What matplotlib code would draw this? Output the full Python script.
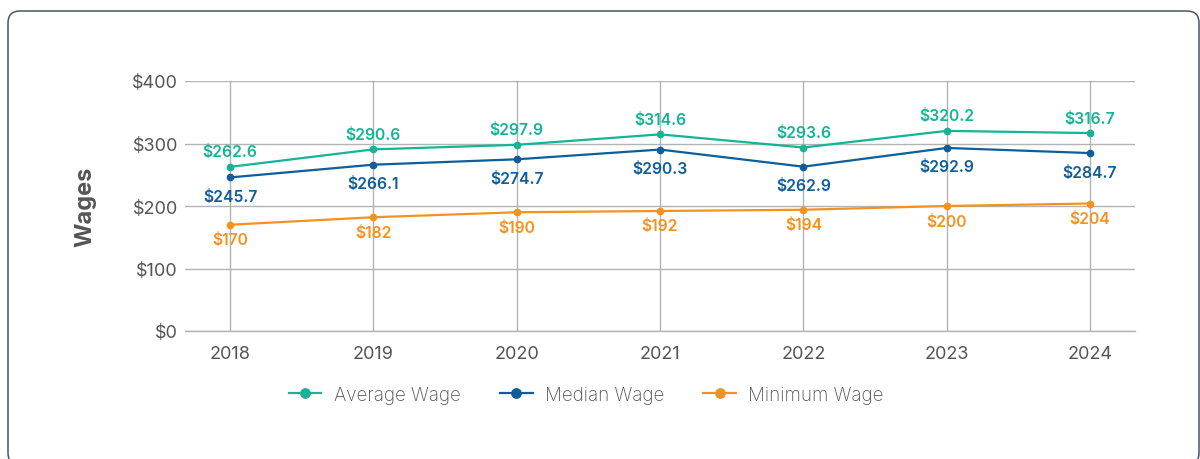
import numpy as np
import matplotlib
matplotlib.use("Agg")
import matplotlib.pyplot as plt
from matplotlib.patches import FancyBboxPatch
from matplotlib.transforms import IdentityTransform
from matplotlib.legend_handler import HandlerLine2D

years = ["2018", "2019", "2020", "2021", "2022", "2023", "2024"]
average_wage = [262.6, 290.6, 297.9, 314.6, 293.6, 320.2, 316.7]
median_wage = [245.7, 266.1, 274.7, 290.3, 262.9, 292.9, 284.7]
minimum_wage = [170, 182, 190, 192, 194, 200, 204]
y_ticks = [0, 100, 200, 300, 400]

TEAL = "#14B497"
BLUE = "#0E5E9C"
ORANGE = "#F5921F"
GRAY_TXT = "#555555"
GRID = "#B3B3B3"

plt.rcParams['font.family'] = ['Inter', 'DejaVu Sans']

fig = plt.figure(figsize=(12, 4.6), dpi=100)
fig.patch.set_facecolor("white")
ax = fig.add_axes([185/1200, 128/460, 950/1200, 250/460])

x = np.arange(len(years))

series = [
    ("Average Wage", average_wage, TEAL, 15),
    ("Median Wage", median_wage, BLUE, -19),
    ("Minimum Wage", minimum_wage, ORANGE, -15),
]

handles = []
for name, vals, color, off in series:
    ln, = ax.plot(x, vals, color=color, lw=1.6, marker="o", ms=4.5,
                  zorder=3, label=name, clip_on=False)
    handles.append(ln)
    for xi, v in zip(x, vals):
        lbl = f"${v:g}" if isinstance(v, int) else f"${v:.1f}"
        ax.annotate(lbl, (xi, v), xytext=(0, off * 0.72), textcoords="offset points",
                    ha="center", va="center", color=color, fontsize=11.3,
                    fontweight="semibold", zorder=4)

ax.set_xlim(-0.314, len(years) - 1 + 0.314)
ax.set_ylim(0, 400)
ax.set_yticks(y_ticks)
ax.set_yticklabels([f"${t}" for t in y_ticks])
ax.set_xticks(x)
ax.set_xticklabels(years)
ax.tick_params(axis="both", length=0, labelsize=13, labelcolor=GRAY_TXT)
ax.tick_params(axis="y", pad=5)
ax.tick_params(axis="x", pad=10)
ax.grid(True, color=GRID, lw=1)
ax.set_axisbelow(True)
for s in ax.spines.values():
    s.set_visible(False)
ax.spines["bottom"].set_visible(True)
ax.spines["bottom"].set_color(GRID)
ax.spines["bottom"].set_linewidth(1)

ax.set_ylabel("Wages", fontsize=17, fontweight="bold", color=GRAY_TXT, va="center")
ax.yaxis.set_label_coords(-0.105, 0.5)


class LeftMarkerHandler(HandlerLine2D):
    def get_xdata(self, legend, xdescent, ydescent, width, height, fontsize):
        xdata = np.array([-xdescent, -xdescent + width])
        return xdata, np.array([-xdescent])


leg = fig.legend(handles=handles, loc="center", bbox_to_anchor=(0.4885, 0.139),
                 ncol=3, frameon=False, fontsize=13.5, handlelength=1.75,
                 handletextpad=0.65, columnspacing=2.1, markerscale=1.5,
                 handler_map={h: LeftMarkerHandler(numpoints=1) for h in handles})
for t in leg.get_texts():
    t.set_color(GRAY_TXT)
    t.set_fontweight("light")

border = FancyBboxPatch((8, -6), 1191, 454,
                        boxstyle="round,pad=0,rounding_size=12",
                        transform=IdentityTransform(), fill=False,
                        edgecolor="#4A5562", lw=1.1)
fig.add_artist(border)

fig.savefig("out.png", dpi=100)
